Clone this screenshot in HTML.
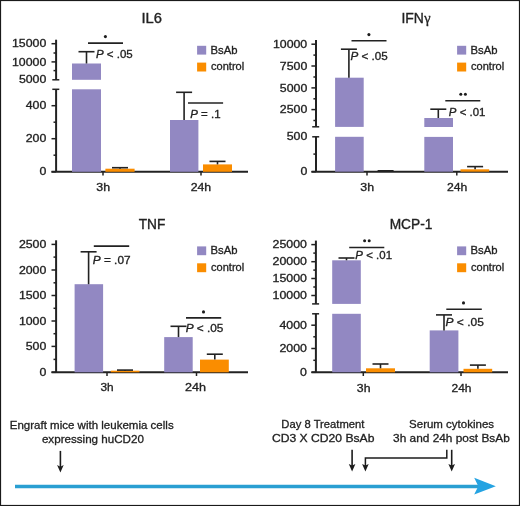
<!DOCTYPE html>
<html><head><meta charset="utf-8"><style>
html,body{margin:0;padding:0;background:#fff;}
body{width:520px;height:506px;overflow:hidden;}
svg{display:block;font-family:"Liberation Sans",sans-serif;will-change:transform;}
text{fill:#222;stroke:#222;stroke-width:0.3px;}
text.t{stroke-width:0.35px;}
</style></head><body>
<svg width="520" height="506" viewBox="0 0 520 506">
<text class="t" transform="translate(141.44,22.7) scale(1.0529,1)" font-size="14">IL6</text>
<line x1="56.1" y1="39.7" x2="56.1" y2="79.8" stroke="#222" stroke-width="2.0"/>
<line x1="52.3" y1="79.8" x2="59.3" y2="79.8" stroke="#222" stroke-width="1.5"/>
<line x1="56.1" y1="89.3" x2="56.1" y2="171.8" stroke="#222" stroke-width="2.0"/>
<line x1="52.3" y1="89.3" x2="59.3" y2="89.3" stroke="#222" stroke-width="1.5"/>
<line x1="51.5" y1="43.7" x2="56.1" y2="43.7" stroke="#222" stroke-width="1.5"/>
<text transform="translate(12.00,47.35) scale(1.2000,1)" font-size="10.3">15000</text>
<line x1="53.5" y1="53" x2="56.1" y2="53" stroke="#222" stroke-width="1.5"/>
<line x1="51.5" y1="61.9" x2="56.1" y2="61.9" stroke="#222" stroke-width="1.5"/>
<text transform="translate(12.00,65.55) scale(1.2000,1)" font-size="10.3">10000</text>
<line x1="53.5" y1="70.6" x2="56.1" y2="70.6" stroke="#222" stroke-width="1.5"/>
<text transform="translate(18.89,83.45) scale(1.2000,1)" font-size="10.3">5000</text>
<line x1="51.5" y1="105.7" x2="56.1" y2="105.7" stroke="#222" stroke-width="1.5"/>
<text transform="translate(25.75,109.35) scale(1.2000,1)" font-size="10.3">400</text>
<line x1="53.5" y1="122.2" x2="56.1" y2="122.2" stroke="#222" stroke-width="1.5"/>
<line x1="51.5" y1="138.7" x2="56.1" y2="138.7" stroke="#222" stroke-width="1.5"/>
<text transform="translate(25.75,142.35) scale(1.2000,1)" font-size="10.3">200</text>
<line x1="53.5" y1="155.2" x2="56.1" y2="155.2" stroke="#222" stroke-width="1.5"/>
<line x1="51.5" y1="171.8" x2="56.1" y2="171.8" stroke="#222" stroke-width="1.5"/>
<text transform="translate(39.50,175.45) scale(1.2000,1)" font-size="10.3">0</text>
<line x1="51.5" y1="171.8" x2="248" y2="171.8" stroke="#222" stroke-width="2.0"/>
<line x1="103" y1="171.8" x2="103" y2="175.5" stroke="#222" stroke-width="1.5"/>
<line x1="201" y1="171.8" x2="201" y2="175.5" stroke="#222" stroke-width="1.5"/>
<text transform="translate(96.34,190.7) scale(1.2016,1)" font-size="10.3">3h</text>
<text transform="translate(190.69,190.6) scale(1.1925,1)" font-size="10.3">24h</text>
<rect x="72" y="63.5" width="29" height="16.3" fill="#9288c2"/>
<rect x="72" y="89.3" width="29" height="82.5" fill="#9288c2"/>
<line x1="86.5" y1="51.7" x2="86.5" y2="63.5" stroke="#222" stroke-width="1.6"/>
<line x1="78.5" y1="51.7" x2="94.5" y2="51.7" stroke="#222" stroke-width="1.6"/>
<rect x="105.4" y="168.7" width="29.2" height="3.1" fill="#fa8d00"/>
<line x1="120" y1="167.7" x2="120" y2="168.7" stroke="#222" stroke-width="1.6"/>
<line x1="112" y1="167.7" x2="128" y2="167.7" stroke="#222" stroke-width="1.6"/>
<rect x="170" y="120" width="28.4" height="51.8" fill="#9288c2"/>
<line x1="184.1" y1="92.3" x2="184.1" y2="120" stroke="#222" stroke-width="1.6"/>
<line x1="176.1" y1="92.3" x2="192.1" y2="92.3" stroke="#222" stroke-width="1.6"/>
<rect x="203" y="164.4" width="29" height="7.4" fill="#fa8d00"/>
<line x1="217.5" y1="161.4" x2="217.5" y2="164.4" stroke="#222" stroke-width="1.6"/>
<line x1="209.5" y1="161.4" x2="225.5" y2="161.4" stroke="#222" stroke-width="1.6"/>
<line x1="88" y1="43.1" x2="123" y2="43.1" stroke="#222" stroke-width="1.6"/>
<circle cx="105.4" cy="36.6" r="1.55" fill="#1c1c1c"/>
<text transform="translate(95.95,57.7) scale(1.1184,1)" font-size="10.3"><tspan font-style="italic">P</tspan> &lt; .05</text>
<line x1="188" y1="103" x2="223.1" y2="103" stroke="#222" stroke-width="1.6"/>
<text transform="translate(190.26,117.7) scale(1.1139,1)" font-size="10.3"><tspan font-style="italic">P</tspan> = .1</text>
<rect x="197.1" y="45.8" width="9.1" height="8.8" fill="#9288c2"/>
<rect x="197.1" y="62.6" width="9.1" height="8.9" fill="#fa8d00"/>
<text transform="translate(210.57,53.5) scale(1.0961,1)" font-size="10.3">BsAb</text>
<text transform="translate(211.03,70.1) scale(1.0741,1)" font-size="10.3">control</text>
<text class="t" transform="translate(401.41,22.6) scale(0.9955,1)" font-size="14">IFN</text>
<text class="t" x="424.3" y="22.6" font-size="14.3" font-family="Liberation Serif">&#947;</text>
<line x1="316" y1="39.9" x2="316" y2="126.8" stroke="#222" stroke-width="2.0"/>
<line x1="312.2" y1="126.8" x2="319.2" y2="126.8" stroke="#222" stroke-width="1.5"/>
<line x1="316" y1="136.8" x2="316" y2="171.7" stroke="#222" stroke-width="2.0"/>
<line x1="312.2" y1="136.8" x2="319.2" y2="136.8" stroke="#222" stroke-width="1.5"/>
<line x1="311.4" y1="44.2" x2="316" y2="44.2" stroke="#222" stroke-width="1.5"/>
<text transform="translate(272.90,47.85) scale(1.2000,1)" font-size="10.3">10000</text>
<line x1="313.4" y1="55.1" x2="316" y2="55.1" stroke="#222" stroke-width="1.5"/>
<line x1="311.4" y1="66" x2="316" y2="66" stroke="#222" stroke-width="1.5"/>
<text transform="translate(279.79,69.65) scale(1.2000,1)" font-size="10.3">7500</text>
<line x1="313.4" y1="77" x2="316" y2="77" stroke="#222" stroke-width="1.5"/>
<line x1="311.4" y1="87.9" x2="316" y2="87.9" stroke="#222" stroke-width="1.5"/>
<text transform="translate(279.79,91.55) scale(1.2000,1)" font-size="10.3">5000</text>
<line x1="313.4" y1="98.8" x2="316" y2="98.8" stroke="#222" stroke-width="1.5"/>
<line x1="311.4" y1="109.6" x2="316" y2="109.6" stroke="#222" stroke-width="1.5"/>
<text transform="translate(279.79,113.25) scale(1.2000,1)" font-size="10.3">2500</text>
<line x1="313.4" y1="120.5" x2="316" y2="120.5" stroke="#222" stroke-width="1.5"/>
<text transform="translate(286.65,140.45) scale(1.2000,1)" font-size="10.3">500</text>
<line x1="313.4" y1="154.1" x2="316" y2="154.1" stroke="#222" stroke-width="1.5"/>
<line x1="311.4" y1="171.7" x2="316" y2="171.7" stroke="#222" stroke-width="1.5"/>
<text transform="translate(300.40,175.35) scale(1.2000,1)" font-size="10.3">0</text>
<line x1="311.5" y1="171.7" x2="508" y2="171.7" stroke="#222" stroke-width="2.0"/>
<line x1="367" y1="171.7" x2="367" y2="175.5" stroke="#222" stroke-width="1.5"/>
<line x1="456.8" y1="171.7" x2="456.8" y2="175.5" stroke="#222" stroke-width="1.5"/>
<text transform="translate(360.34,190.7) scale(1.2016,1)" font-size="10.3">3h</text>
<text transform="translate(446.99,190.6) scale(1.1863,1)" font-size="10.3">24h</text>
<rect x="335.1" y="77.7" width="28.6" height="49.2" fill="#9288c2"/>
<rect x="335.1" y="136.8" width="28.6" height="34.9" fill="#9288c2"/>
<line x1="348.9" y1="49.2" x2="348.9" y2="77.7" stroke="#222" stroke-width="1.6"/>
<line x1="340.9" y1="49.2" x2="356.9" y2="49.2" stroke="#222" stroke-width="1.6"/>
<line x1="377.6" y1="170.8" x2="393.6" y2="170.8" stroke="#222" stroke-width="1.6"/>
<rect x="424.3" y="118" width="28.7" height="9" fill="#9288c2"/>
<rect x="424.3" y="136.9" width="28.7" height="34.8" fill="#9288c2"/>
<line x1="438.3" y1="109.2" x2="438.3" y2="118" stroke="#222" stroke-width="1.6"/>
<line x1="430.3" y1="109.2" x2="446.3" y2="109.2" stroke="#222" stroke-width="1.6"/>
<rect x="460.5" y="169.3" width="28.7" height="2.4" fill="#fa8d00"/>
<line x1="475.1" y1="166.6" x2="475.1" y2="169.3" stroke="#222" stroke-width="1.6"/>
<line x1="467.1" y1="166.6" x2="483.1" y2="166.6" stroke="#222" stroke-width="1.6"/>
<line x1="351.5" y1="40.8" x2="386.5" y2="40.8" stroke="#222" stroke-width="1.6"/>
<circle cx="368.9" cy="34.6" r="1.55" fill="#1c1c1c"/>
<text transform="translate(350.45,60) scale(1.1309,1)" font-size="10.3"><tspan font-style="italic">P</tspan> &lt; .05</text>
<line x1="445.3" y1="100.8" x2="480.3" y2="100.8" stroke="#222" stroke-width="1.6"/>
<circle cx="460.8" cy="94.2" r="1.5" fill="#1c1c1c"/>
<circle cx="465.40000000000003" cy="94.2" r="1.5" fill="#1c1c1c"/>
<text transform="translate(448.86,115.6) scale(1.1087,1)" font-size="10.3"><tspan font-style="italic">P</tspan> &lt; .01</text>
<rect x="457.1" y="45.8" width="9.1" height="8.8" fill="#9288c2"/>
<rect x="457.1" y="62.6" width="9.1" height="8.9" fill="#fa8d00"/>
<text transform="translate(470.57,53.5) scale(1.0961,1)" font-size="10.3">BsAb</text>
<text transform="translate(471.03,70.1) scale(1.0741,1)" font-size="10.3">control</text>
<text class="t" transform="translate(138.69,229.2) scale(0.9802,1)" font-size="14">TNF</text>
<line x1="56.1" y1="240.3" x2="56.1" y2="372.3" stroke="#222" stroke-width="2.0"/>
<line x1="51.5" y1="244.4" x2="56.1" y2="244.4" stroke="#222" stroke-width="1.5"/>
<text transform="translate(18.89,248.05) scale(1.2000,1)" font-size="10.3">2500</text>
<line x1="53.5" y1="257.1" x2="56.1" y2="257.1" stroke="#222" stroke-width="1.5"/>
<line x1="51.5" y1="270" x2="56.1" y2="270" stroke="#222" stroke-width="1.5"/>
<text transform="translate(18.89,273.65) scale(1.2000,1)" font-size="10.3">2000</text>
<line x1="53.5" y1="282.8" x2="56.1" y2="282.8" stroke="#222" stroke-width="1.5"/>
<line x1="51.5" y1="295.5" x2="56.1" y2="295.5" stroke="#222" stroke-width="1.5"/>
<text transform="translate(18.89,299.15) scale(1.2000,1)" font-size="10.3">1500</text>
<line x1="53.5" y1="308.3" x2="56.1" y2="308.3" stroke="#222" stroke-width="1.5"/>
<line x1="51.5" y1="321" x2="56.1" y2="321" stroke="#222" stroke-width="1.5"/>
<text transform="translate(18.89,324.65) scale(1.2000,1)" font-size="10.3">1000</text>
<line x1="53.5" y1="333.7" x2="56.1" y2="333.7" stroke="#222" stroke-width="1.5"/>
<line x1="51.5" y1="346.4" x2="56.1" y2="346.4" stroke="#222" stroke-width="1.5"/>
<text transform="translate(25.75,350.05) scale(1.2000,1)" font-size="10.3">500</text>
<line x1="53.5" y1="359.4" x2="56.1" y2="359.4" stroke="#222" stroke-width="1.5"/>
<line x1="51.5" y1="372.3" x2="56.1" y2="372.3" stroke="#222" stroke-width="1.5"/>
<text transform="translate(39.50,375.95) scale(1.2000,1)" font-size="10.3">0</text>
<line x1="51.5" y1="372.3" x2="248" y2="372.3" stroke="#222" stroke-width="2.0"/>
<line x1="107" y1="372.3" x2="107" y2="376" stroke="#222" stroke-width="1.5"/>
<line x1="196.5" y1="372.3" x2="196.5" y2="376" stroke="#222" stroke-width="1.5"/>
<text transform="translate(100.45,391.4) scale(1.1535,1)" font-size="10.3">3h</text>
<text transform="translate(184.97,391.3) scale(1.2237,1)" font-size="10.3">24h</text>
<rect x="74.6" y="284.2" width="28.5" height="88.1" fill="#9288c2"/>
<line x1="88.6" y1="251.8" x2="88.6" y2="284.2" stroke="#222" stroke-width="1.6"/>
<line x1="80.6" y1="251.8" x2="96.6" y2="251.8" stroke="#222" stroke-width="1.6"/>
<rect x="110.8" y="370.7" width="28.7" height="1.6" fill="#fa8d00"/>
<line x1="125" y1="370.1" x2="125" y2="370.7" stroke="#222" stroke-width="1.6"/>
<line x1="117" y1="370.1" x2="133" y2="370.1" stroke="#222" stroke-width="1.6"/>
<rect x="164.2" y="337.1" width="28.5" height="35.2" fill="#9288c2"/>
<line x1="178.5" y1="326.3" x2="178.5" y2="337.1" stroke="#222" stroke-width="1.6"/>
<line x1="170.5" y1="326.3" x2="186.5" y2="326.3" stroke="#222" stroke-width="1.6"/>
<rect x="200" y="359.6" width="28.8" height="12.7" fill="#fa8d00"/>
<line x1="214.8" y1="354.2" x2="214.8" y2="359.6" stroke="#222" stroke-width="1.6"/>
<line x1="206.8" y1="354.2" x2="222.8" y2="354.2" stroke="#222" stroke-width="1.6"/>
<line x1="93.8" y1="246.1" x2="129.2" y2="246.1" stroke="#222" stroke-width="1.6"/>
<text transform="translate(92.74,263.5) scale(1.1501,1)" font-size="10.3"><tspan font-style="italic">P</tspan> = .07</text>
<line x1="186" y1="317.9" x2="221.2" y2="317.9" stroke="#222" stroke-width="1.6"/>
<circle cx="203.5" cy="311.9" r="1.55" fill="#1c1c1c"/>
<text transform="translate(185.64,332.3) scale(1.1495,1)" font-size="10.3"><tspan font-style="italic">P</tspan> &lt; .05</text>
<rect x="197.1" y="246.4" width="9.1" height="8.8" fill="#9288c2"/>
<rect x="197.1" y="263.3" width="9.1" height="8.9" fill="#fa8d00"/>
<text transform="translate(210.57,254.0) scale(1.0961,1)" font-size="10.3">BsAb</text>
<text transform="translate(211.03,270.8) scale(1.0741,1)" font-size="10.3">control</text>
<text class="t" transform="translate(389.66,229.2) scale(0.9827,1)" font-size="14">MCP-1</text>
<line x1="315.9" y1="240.6" x2="315.9" y2="303.9" stroke="#222" stroke-width="2.0"/>
<line x1="312.1" y1="303.9" x2="319.1" y2="303.9" stroke="#222" stroke-width="1.5"/>
<line x1="315.9" y1="313.8" x2="315.9" y2="372.3" stroke="#222" stroke-width="2.0"/>
<line x1="312.1" y1="313.8" x2="319.1" y2="313.8" stroke="#222" stroke-width="1.5"/>
<line x1="311.3" y1="244.6" x2="315.9" y2="244.6" stroke="#222" stroke-width="1.5"/>
<text transform="translate(272.60,248.25) scale(1.2000,1)" font-size="10.3">25000</text>
<line x1="313.3" y1="253.1" x2="315.9" y2="253.1" stroke="#222" stroke-width="1.5"/>
<line x1="311.3" y1="261.7" x2="315.9" y2="261.7" stroke="#222" stroke-width="1.5"/>
<text transform="translate(272.60,265.35) scale(1.2000,1)" font-size="10.3">20000</text>
<line x1="313.3" y1="270.1" x2="315.9" y2="270.1" stroke="#222" stroke-width="1.5"/>
<line x1="311.3" y1="278.5" x2="315.9" y2="278.5" stroke="#222" stroke-width="1.5"/>
<text transform="translate(272.60,282.15) scale(1.2000,1)" font-size="10.3">15000</text>
<line x1="313.3" y1="287" x2="315.9" y2="287" stroke="#222" stroke-width="1.5"/>
<line x1="311.3" y1="295.5" x2="315.9" y2="295.5" stroke="#222" stroke-width="1.5"/>
<text transform="translate(272.60,299.15) scale(1.2000,1)" font-size="10.3">10000</text>
<line x1="311.3" y1="325.2" x2="315.9" y2="325.2" stroke="#222" stroke-width="1.5"/>
<text transform="translate(279.49,328.85) scale(1.2000,1)" font-size="10.3">4000</text>
<line x1="313.3" y1="336.8" x2="315.9" y2="336.8" stroke="#222" stroke-width="1.5"/>
<line x1="311.3" y1="348.5" x2="315.9" y2="348.5" stroke="#222" stroke-width="1.5"/>
<text transform="translate(279.49,352.15) scale(1.2000,1)" font-size="10.3">2000</text>
<line x1="313.3" y1="360.3" x2="315.9" y2="360.3" stroke="#222" stroke-width="1.5"/>
<line x1="311.3" y1="372.3" x2="315.9" y2="372.3" stroke="#222" stroke-width="1.5"/>
<text transform="translate(300.10,375.95) scale(1.2000,1)" font-size="10.3">0</text>
<line x1="311.5" y1="372.3" x2="508" y2="372.3" stroke="#222" stroke-width="2.0"/>
<line x1="363.3" y1="372.3" x2="363.3" y2="376" stroke="#222" stroke-width="1.5"/>
<line x1="461" y1="372.3" x2="461" y2="376" stroke="#222" stroke-width="1.5"/>
<text transform="translate(356.84,391.5) scale(1.1920,1)" font-size="10.3">3h</text>
<text transform="translate(451.50,391.6) scale(1.1675,1)" font-size="10.3">24h</text>
<rect x="332.2" y="260.3" width="28.6" height="43.6" fill="#9288c2"/>
<rect x="332.2" y="313.8" width="28.6" height="58.5" fill="#9288c2"/>
<line x1="346.5" y1="258" x2="346.5" y2="260.3" stroke="#222" stroke-width="1.6"/>
<line x1="338.5" y1="258" x2="354.5" y2="258" stroke="#222" stroke-width="1.6"/>
<rect x="366" y="368.3" width="29" height="4.0" fill="#fa8d00"/>
<line x1="380.5" y1="364" x2="380.5" y2="368.3" stroke="#222" stroke-width="1.6"/>
<line x1="372.5" y1="364" x2="388.5" y2="364" stroke="#222" stroke-width="1.6"/>
<rect x="429.7" y="330.4" width="28.7" height="41.9" fill="#9288c2"/>
<line x1="444" y1="314.9" x2="444" y2="330.4" stroke="#222" stroke-width="1.6"/>
<line x1="436" y1="314.9" x2="452" y2="314.9" stroke="#222" stroke-width="1.6"/>
<rect x="463.5" y="368.8" width="28.7" height="3.5" fill="#fa8d00"/>
<line x1="477.9" y1="365.1" x2="477.9" y2="368.8" stroke="#222" stroke-width="1.6"/>
<line x1="469.9" y1="365.1" x2="485.9" y2="365.1" stroke="#222" stroke-width="1.6"/>
<line x1="349.2" y1="247.5" x2="384.3" y2="247.5" stroke="#222" stroke-width="1.6"/>
<circle cx="364.59999999999997" cy="240.8" r="1.5" fill="#1c1c1c"/>
<circle cx="369.2" cy="240.8" r="1.5" fill="#1c1c1c"/>
<text transform="translate(355.36,258.8) scale(1.1149,1)" font-size="10.3"><tspan font-style="italic">P</tspan> &lt; .01</text>
<line x1="446.3" y1="309.3" x2="481.8" y2="309.3" stroke="#222" stroke-width="1.6"/>
<circle cx="463.5" cy="302.9" r="1.55" fill="#1c1c1c"/>
<text transform="translate(445.54,325.7) scale(1.1619,1)" font-size="10.3"><tspan font-style="italic">P</tspan> &lt; .05</text>
<rect x="457.1" y="246.4" width="9.1" height="8.8" fill="#9288c2"/>
<rect x="457.1" y="263.3" width="9.1" height="8.9" fill="#fa8d00"/>
<text transform="translate(470.57,254.0) scale(1.0961,1)" font-size="10.3">BsAb</text>
<text transform="translate(471.03,270.8) scale(1.0741,1)" font-size="10.3">control</text>
<text transform="translate(9.75,428.7) scale(1.0289,1)" font-size="11.2">Engraft mice with leukemia cells</text>
<text transform="translate(41.91,442.7) scale(1.0373,1)" font-size="11.2">expressing huCD20</text>
<text transform="translate(281.37,427.7) scale(1.0038,1)" font-size="11.2">Day 8 Treatment</text>
<text transform="translate(271.89,441.8) scale(1.0844,1)" font-size="11.2">CD3 X CD20 BsAb</text>
<text transform="translate(409.08,428) scale(1.0269,1)" font-size="11.2">Serum cytokines</text>
<text transform="translate(393.05,441.7) scale(1.0600,1)" font-size="11.2">3h and 24h post BsAb</text>
<line x1="60.4" y1="450.9" x2="60.4" y2="468.6" stroke="#1c1c1c" stroke-width="1.6"/>
<path d="M57.1,465.1 L60.4,466.8 L63.699999999999996,465.1 L60.4,472.6 Z" fill="#1c1c1c"/>
<line x1="352.1" y1="449.8" x2="352.1" y2="467.4" stroke="#1c1c1c" stroke-width="1.6"/>
<path d="M348.8,463.9 L352.1,465.59999999999997 L355.40000000000003,463.9 L352.1,471.4 Z" fill="#1c1c1c"/>
<line x1="451.7" y1="449.8" x2="451.7" y2="467.4" stroke="#1c1c1c" stroke-width="1.6"/>
<path d="M448.4,463.9 L451.7,465.59999999999997 L455.0,463.9 L451.7,471.4 Z" fill="#1c1c1c"/>
<path d="M446.8,449.8 L446.8,457.9 L365.4,457.9 L365.4,467" fill="none" stroke="#1c1c1c" stroke-width="1.5"/>
<path d="M362.09999999999997,463.9 L365.4,465.59999999999997 L368.7,463.9 L365.4,471.4 Z" fill="#1c1c1c"/>
<line x1="15" y1="486.5" x2="480" y2="486.5" stroke="#2a9fd2" stroke-width="3.3"/>
<path d="M495.8,486.3 L474.2,477.8 L478.3,486.3 L474.2,494.6 Z" fill="#25a3e2"/>
<rect x="0.5" y="0.5" width="519" height="505" fill="none" stroke="#1a1a1a" stroke-width="1.2"/>
</svg>
</body></html>
